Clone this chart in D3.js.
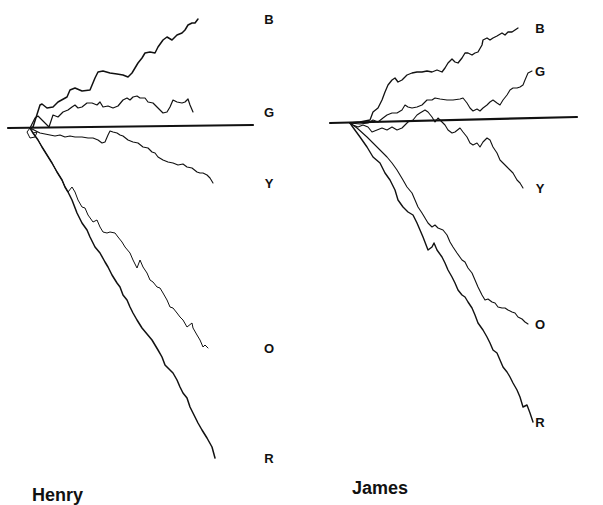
<!DOCTYPE html>
<html>
<head>
<meta charset="utf-8">
<script src="https://cdn.jsdelivr.net/npm/d3@7"></script>
<style>
  body { margin: 0; background: #fff; }
  svg { display: block; }
  .walk { fill: none; stroke: #111; stroke-linejoin: round; stroke-linecap: round; }
  .axisline { fill: none; stroke: #111; stroke-linecap: round; }
  .code { font-family: "Liberation Sans", Arial, sans-serif; font-weight: bold; font-size: 13px; fill: #111; }
  .title { font-family: "Liberation Sans", Arial, sans-serif; font-weight: bold; font-size: 18px; fill: #111; }
</style>
</head>
<body>
<div id="graph"></div>
<script>
const fullWidth = 603;
const fullHeight = 505;

// cumulative scores: [step, score], score up is positive
const henryB = [[0,0],[3,1],[10,23],[12,24],[17,20],[23,21],[28,26],[37,31],[40,38],[45,40],[52,37],[60,38],[65,50],[68,56],[73,57],[80,55],[87,54],[93,53],[98,51],[102,55],[105,60],[108,65],[112,70],[115,75],[120,76],[125,75],[128,81],[133,88],[137,91],[142,88],[147,93],[152,95],[155,98],[158,103],[162,105],[165,105],[168,109]];
const henryG = [[0,0],[5,10],[8,12],[13,7],[19,1],[23,13],[28,11],[33,16],[38,18],[42,21],[45,23],[48,20],[52,21],[57,25],[62,25],[67,23],[70,26],[73,21],[78,22],[83,20],[88,22],[93,28],[97,30],[100,28],[103,31],[107,32],[110,30],[115,30],[118,26],[123,25],[127,21],[130,18],[133,15],[137,16],[140,21],[143,28],[147,26],[152,25],[155,26],[158,29],[160,23],[163,16]];
const henryY = [[0,0],[10,-5],[15,-6],[20,-7],[25,-8],[30,-7],[35,-9],[40,-8],[45,-9],[52,-9],[58,-10],[63,-10],[68,-12],[72,-15],[75,-14],[78,-7],[80,-3],[83,-4],[87,-5],[90,-7],[93,-8],[98,-12],[103,-14],[108,-15],[113,-19],[118,-20],[122,-24],[125,-25],[128,-29],[133,-32],[138,-34],[143,-35],[148,-37],[153,-36],[157,-39],[162,-40],[167,-44],[170,-45],[173,-45],[177,-47],[180,-50],[183,-55]];
const henryO = [[0,0],[-3,-4],[0,-10],[5,-9],[7,-4],[3,-5],[8,-12],[12,-19],[17,-27],[22,-35],[27,-44],[32,-52],[35,-59],[38,-64],[42,-59],[45,-64],[48,-72],[52,-79],[55,-80],[58,-87],[63,-94],[67,-92],[70,-99],[73,-104],[77,-105],[80,-104],[85,-105],[88,-109],[92,-114],[95,-119],[100,-125],[103,-132],[107,-140],[110,-132],[113,-139],[117,-145],[120,-152],[123,-154],[127,-159],[130,-160],[133,-165],[137,-172],[140,-179],[143,-180],[147,-185],[150,-189],[153,-192],[157,-199],[162,-195],[163,-200],[167,-207],[170,-212],[173,-219],[175,-217],[178,-220]];
const henryR = [[0,0],[3,-5],[8,-12],[12,-19],[17,-27],[22,-35],[27,-44],[32,-52],[35,-59],[38,-64],[42,-72],[47,-85],[52,-95],[57,-102],[60,-109],[65,-119],[70,-125],[75,-134],[78,-139],[82,-147],[87,-155],[90,-159],[93,-167],[97,-172],[100,-179],[103,-185],[107,-192],[112,-200],[117,-206],[122,-212],[125,-217],[128,-222],[132,-229],[135,-237],[140,-242],[143,-245],[147,-252],[150,-259],[153,-265],[157,-270],[160,-279],[163,-285],[168,-295],[172,-302],[177,-310],[182,-319],[185,-330]];

const jamesB = [[0,0],[10,1],[20,3],[23,11],[28,15],[32,23],[35,31],[38,38],[42,43],[45,45],[48,41],[52,43],[57,48],[62,50],[67,51],[72,51],[77,52],[82,51],[87,53],[92,51],[95,55],[98,60],[102,64],[105,61],[108,60],[112,65],[115,70],[118,70],[122,68],[125,70],[128,71],[132,78],[133,83],[137,85],[140,83],[143,85],[147,87],[152,90],[155,88],[158,91],[162,91],[165,93],[168,95]];
const jamesG = [[0,0],[10,-1],[18,0],[23,3],[28,1],[33,5],[37,8],[42,10],[47,10],[52,13],[55,18],[58,16],[62,15],[67,16],[72,18],[77,23],[82,23],[85,25],[90,24],[97,23],[103,23],[110,24],[113,25],[117,20],[120,15],[123,12],[127,14],[130,12],[133,15],[137,18],[140,21],[143,23],[147,20],[150,18],[153,23],[157,28],[160,33],[163,35],[167,35],[170,36],[173,38],[175,43],[178,50],[182,52]];
const jamesY = [[0,0],[3,-2],[8,-4],[13,-2],[18,-4],[22,-9],[27,-7],[32,-5],[37,-7],[42,-4],[47,-7],[52,-5],[55,-2],[58,1],[63,3],[67,8],[70,10],[75,13],[78,11],[82,6],[85,1],[88,5],[92,1],[95,-2],[98,-7],[102,-10],[105,-9],[110,-5],[113,-9],[117,-14],[120,-20],[123,-22],[127,-20],[130,-24],[133,-19],[137,-15],[140,-17],[143,-24],[147,-30],[150,-37],[153,-40],[157,-44],[160,-47],[163,-50],[167,-57],[170,-60],[173,-65]];
const jamesO = [[0,0],[7,-5],[17,-14],[23,-20],[30,-27],[37,-34],[42,-40],[47,-47],[53,-57],[57,-64],[62,-70],[65,-77],[68,-84],[72,-90],[75,-95],[78,-100],[82,-104],[85,-102],[88,-105],[93,-107],[97,-112],[100,-119],[103,-124],[107,-130],[112,-137],[115,-139],[118,-145],[122,-150],[125,-157],[128,-164],[132,-172],[135,-177],[138,-176],[142,-179],[145,-180],[148,-184],[152,-185],[155,-185],[158,-187],[162,-189],[165,-190],[168,-194],[172,-196],[175,-199],[178,-201]];
const jamesR = [[0,0],[2,-3],[10,-14],[17,-24],[23,-34],[30,-40],[35,-50],[40,-57],[45,-67],[48,-77],[53,-84],[58,-89],[63,-92],[67,-100],[70,-107],[73,-114],[78,-127],[82,-124],[84,-120],[87,-127],[92,-134],[95,-140],[98,-147],[102,-154],[105,-160],[108,-167],[112,-172],[115,-174],[118,-179],[122,-185],[125,-192],[128,-200],[133,-207],[137,-214],[140,-220],[143,-227],[147,-230],[150,-237],[153,-244],[157,-249],[160,-254],[163,-260],[167,-267],[170,-274],[173,-284],[177,-282],[180,-290],[183,-299]];

const seriesNames = ["B", "G", "Y", "O", "R"];
const henryAxis = [[-22,0],[223,3]];
const jamesAxis = [[-20,0],[227,6]];

const panels = [
  { name: "Henry", series: [henryB, henryG, henryY, henryO, henryR], axis: henryAxis,
    ox: 30, oy: 128, labelX: 269, widths: [1.5, 1.2, 1.1, 1.0, 1.5] },
  { name: "James", series: [jamesB, jamesG, jamesY, jamesO, jamesR], axis: jamesAxis,
    ox: 350, oy: 123, labelX: 540, widths: [1.3, 1.1, 1.1, 1.1, 1.4] }
];

var svg = d3.select("#graph")
  .append("svg")
  .attr("width", fullWidth)
  .attr("height", fullHeight);

panels.forEach(function (p) {
  // one score unit = one pixel, origin at where the walks start
  var x = d3.scaleLinear().domain([0, 100]).range([p.ox, p.ox + 100]);
  var y = d3.scaleLinear().domain([0, 100]).range([p.oy, p.oy - 100]);

  var line = d3.line()
    .x(d => x(d[0]))
    .y(d => y(d[1]))
    .curve(d3.curveLinear);

  var g = svg.append("g");

  // zero line
  g.append("path")
    .attr("class", "axisline")
    .attr("d", line(p.axis))
    .attr("stroke-width", 2.2);

  g.selectAll(".walk")
    .data(p.series)
    .enter().append("path")
    .attr("class", "walk")
    .attr("stroke-width", (d, i) => p.widths[i])
    .attr("d", line);

  // letter at the end of each walk
  g.selectAll(".code")
    .data(p.series)
    .enter().append("text")
    .attr("class", "code")
    .attr("x", p.labelX)
    .attr("y", d => y(d[d.length - 1][1]))
    .attr("dy", "0.35em")
    .attr("text-anchor", "middle")
    .text((d, i) => seriesNames[i]);

  g.append("text")
    .attr("class", "title")
    .attr("x", p.ox + 2)
    .attr("y", p.name === "Henry" ? 501 : 494)
    .text(p.name);
});
</script>
</body>
</html>
